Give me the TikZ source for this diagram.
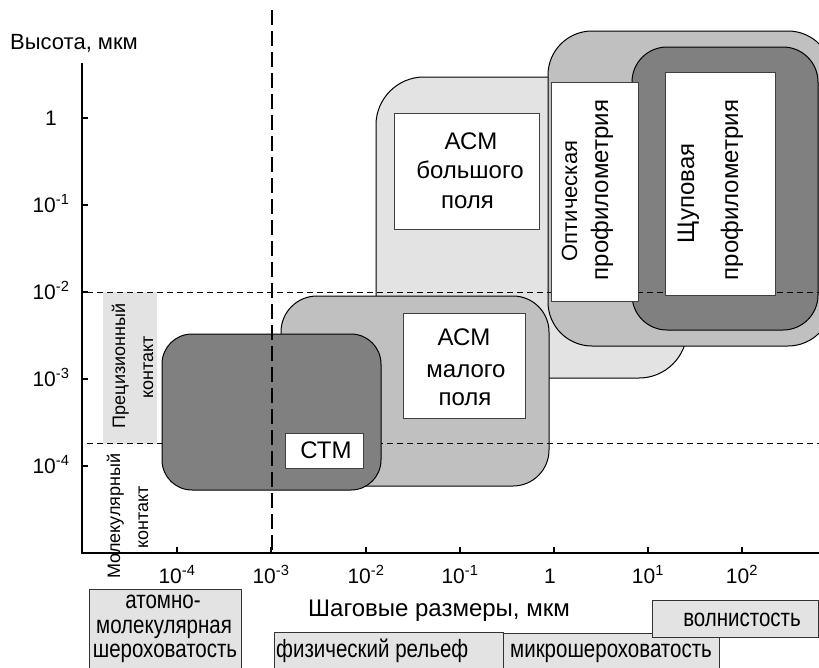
\documentclass[tikz,border=0pt]{standalone}
\usepackage{fontspec}
\setmainfont{Liberation Sans}
\newfontfamily\narrowfont[FakeStretch=0.82]{Liberation Sans}
\definecolor{lg}{HTML}{E3E3E3}
\definecolor{mg}{HTML}{C0C0C0}
\definecolor{dg}{HTML}{808080}
\begin{document}
\begin{tikzpicture}[x=1pt,y=-1pt,
  rbox/.style={draw=black, line width=1pt, rounded corners=#1},
  wbox/.style={draw=black!75, fill=white, line width=1pt, inner sep=0pt},
  gbox/.style={draw=black!80, fill=lg, line width=1pt},
  thindash/.style={line width=1pt, dash pattern=on 6pt off 4pt},
  thickdash/.style={line width=2.5pt, dash pattern=on 15pt off 6pt},
  axisline/.style={line width=1.5pt},
  tick/.style={line width=1.5pt},
  ticklbl/.style={anchor=base, inner sep=0pt, font=\fontsize{21}{21}\selectfont},
  big/.style={anchor=base, inner sep=0pt, font=\fontsize{24}{24}\selectfont},
  rot/.style={anchor=base, inner sep=0pt, rotate=90},
  nar/.style={inner sep=0pt, font=\narrowfont\fontsize{25}{25}\selectfont}
]
\useasboundingbox (0,0) rectangle (819,667);
\begin{scope}
\clip (0,0) rectangle (819,667);
% instrument regions
\draw[rbox=48, fill=lg] (376,77) rectangle (687,378);
\draw[rbox=44, fill=mg] (548,31) rectangle (832,346);
\draw[rbox=35, fill=dg] (632,47) rectangle (818,330);
\draw[rbox=36, fill=mg] (281,296) rectangle (549,486);
% precision contact band
\fill[lg] (103,292) rectangle (157,444);
\draw[thindash] (87,443) -- (819,443);
\draw[rbox=30, fill=dg] (162,334) rectangle (381,490);
% vertical boundary 10^-3
\draw[thickdash] (272,10) -- (272,553);
\draw[thindash] (87,292) -- (819,292);

% label boxes
\node[wbox, minimum width=145pt, minimum height=116pt] (asmBbox) at (466.5,171) {};
\node[big] (asmB1) at (471,149) {АСМ};
\node[big] (asmB2) at (470,178) {большого};
\node[big] (asmB3) at (467.5,208) {поля};

\node[wbox, minimum width=122pt, minimum height=105pt] (asmSbox) at (464,365.5) {};
\node[big] (asmS1) at (464,345) {АСМ};
\node[big] (asmS2) at (466,377) {малого};
\node[big] (asmS3) at (465,405) {поля};

\node[wbox, minimum width=78pt, minimum height=35pt] (stmbox) at (324,450.5) {};
\node[big] (stm) at (326,458) {СТМ};

\node[wbox, minimum width=87pt, minimum height=219pt] (optbox) at (594.5,191.5) {};
\node[rot, font=\fontsize{22}{22}\selectfont] (opt1) at (577,201) {Оптическая};
\node[rot, font=\fontsize{24}{24}\selectfont] (opt2) at (608,190) {профилометрия};

\node[wbox, minimum width=110pt, minimum height=223pt] (shbox) at (720,183.5) {};
\node[rot, font=\fontsize{24}{24}\selectfont] (sh1) at (694,193.5) {Щуповая};
\node[rot, font=\fontsize{24}{24}\selectfont] (sh2) at (738,190) {профилометрия};
\end{scope}

% band labels
\node[rot, font=\fontsize{18}{18}\selectfont] (prec1) at (125,366) {Прецизионный};
\node[rot, font=\fontsize{18}{18}\selectfont] (prec2) at (153,367) {контакт};
\node[rot, font=\fontsize{18}{18}\selectfont] (mol1) at (120,516) {Молекулярный};
\node[rot, font=\fontsize{18}{18}\selectfont] (mol2) at (148,517) {контакт};

% axes
\coordinate (ytop) at (82,63);
\coordinate (orig) at (82,553);
\coordinate (xend) at (819,553);
\draw[axisline] (ytop) -- (orig) -- (xend);
\foreach \yy in {118,205,292,379,466} \draw[tick] (82,\yy) -- (88,\yy);
\foreach \xx in {177,271,366,460,554,648,742} \draw[tick] (\xx,553) -- (\xx,547);

\node[ticklbl] (y0) at (51,125.5) {1};
\node[ticklbl] (y1) at (51,212.5) {10\textsuperscript{-1}};
\node[ticklbl] (y2) at (51,299.5) {10\textsuperscript{-2}};
\node[ticklbl] (y3) at (51,386.5) {10\textsuperscript{-3}};
\node[ticklbl] (y4) at (51,473.5) {10\textsuperscript{-4}};

\node[ticklbl] (x4) at (177,583) {10\textsuperscript{-4}};
\node[ticklbl] (x3) at (271,583) {10\textsuperscript{-3}};
\node[ticklbl] (x2) at (366,583) {10\textsuperscript{-2}};
\node[ticklbl] (x1) at (460,583) {10\textsuperscript{-1}};
\node[ticklbl] (x0) at (550,583) {1};
\node[ticklbl] (xp1) at (648,583) {10\textsuperscript{1}};
\node[ticklbl] (xp2) at (742,583) {10\textsuperscript{2}};

\node[anchor=base west, inner sep=0pt, font=\fontsize{22}{22}\selectfont] (ylab) at (10,49) {Высота, мкм};
\node[anchor=base, inner sep=0pt, font=\fontsize{24}{24}\selectfont] (xlab) at (439,616) {Шаговые размеры, мкм};

% scale ranges
\begin{scope}
\clip (0,0) rectangle (819,667);
\draw[gbox] (89,589) rectangle (241,690);
\draw[gbox] (274,632) rectangle (503,690);
\draw[gbox] (503,633) rectangle (719,690);
\draw[gbox] (652,600) rectangle (818,637);
\end{scope}
\node[nar, anchor=base] (at1) at (163,608) {атомно-};
\node[nar, anchor=base] (at2) at (164,633) {молекулярная};
\node[nar, anchor=base] (at3) at (165,657) {шероховатость};
\node[nar, anchor=base west] (phys) at (276,657) {физический рельеф};
\node[nar, anchor=base west] (micro) at (510,657) {микрошероховатость};
\node[nar, anchor=base] (wave) at (742,626) {волнистость};
\end{tikzpicture}
\end{document}
